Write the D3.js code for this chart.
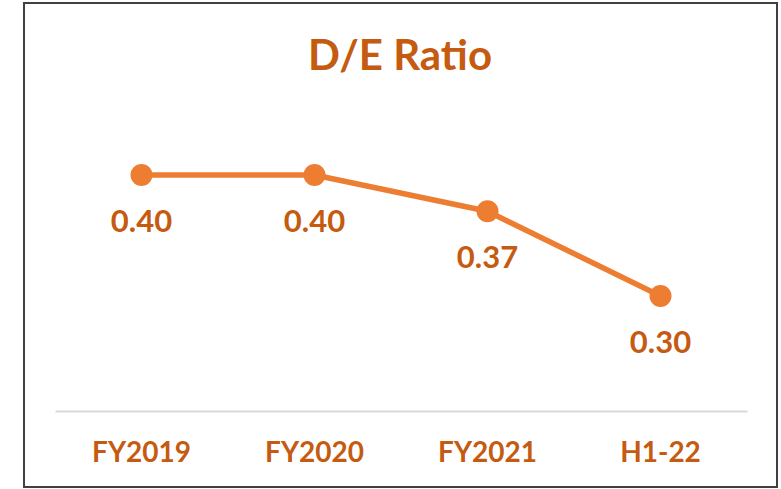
<!DOCTYPE html>
<html lang="en">
  <head>
    <meta charset="UTF-8" />
    <title>D/E Ratio</title>
    <script src="https://d3js.org/d3.v7.min.js" charset="utf-8"></script>
    <style>
      body { margin: 0; background: #fff; }
    </style>
  </head>
  <body>
    <div id="svgCanvas"></div>
    <script>
      // data
      var categories = ["FY2019", "FY2020", "FY2021", "H1-22"];
      var ratios = [0.40, 0.40, 0.37, 0.30];
      var title = "D/E Ratio";

      var width = 781,
        height = 489;

      var canvas = d3
        .select("#svgCanvas")
        .append("svg")
        .attr("width", width)
        .attr("height", height);

      var font = "Lato, 'Open Sans', sans-serif";

      // frame
      canvas
        .append("rect")
        .attr("x", 24)
        .attr("y", 3)
        .attr("width", 753)
        .attr("height", 484)
        .attr("fill", "#fff")
        .attr("stroke", "#404040")
        .attr("stroke-width", 2);

      var x = d3
        .scaleBand()
        .domain(categories)
        .range([55, 747]);

      var y = d3
        .scaleLinear()
        .domain([0.2, 0.5])
        .range([417, 54]);

      var axisY = 411;

      // title
      canvas
        .append("text")
        .attr("x", 400)
        .attr("y", 70)
        .attr("text-anchor", "middle")
        .attr("font-family", font)
        .attr("font-weight", "bold")
        .attr("font-size", 42)
        .attr("fill", "#C55A11")
        .text(title);

      // category axis
      var gX = canvas
        .append("g")
        .attr("transform", "translate(0," + axisY + ")")
        .call(d3.axisBottom(x).tickSize(0).tickPadding(0));
      gX.select(".domain")
        .attr("stroke", "#d9d9d9")
        .attr("stroke-width", 2);
      gX.selectAll(".tick text")
        .attr("y", 51)
        .attr("dy", 0)
        .attr("font-family", font)
        .attr("font-weight", "bold")
        .attr("font-size", 28)
        .attr("fill", "#C55A11");

      var cx = function(d, i) {
        return x(categories[i]) + x.bandwidth() / 2;
      };

      // line
      var line = d3
        .line()
        .x(cx)
        .y(function(d) {
          return y(d);
        });

      canvas
        .append("path")
        .attr("d", line(ratios))
        .attr("fill", "none")
        .attr("stroke", "#ED7D31")
        .attr("stroke-width", 5.5)
        .attr("stroke-linejoin", "round");

      // markers
      canvas
        .selectAll("circle.pt")
        .data(ratios)
        .enter()
        .append("circle")
        .attr("class", "pt")
        .attr("cx", cx)
        .attr("cy", function(d) {
          return y(d);
        })
        .attr("r", 11)
        .attr("fill", "#ED7D31");

      // value labels below points
      canvas
        .selectAll("text.lbl")
        .data(ratios)
        .enter()
        .append("text")
        .attr("class", "lbl")
        .attr("x", cx)
        .attr("y", function(d) {
          return y(d) + 57;
        })
        .attr("text-anchor", "middle")
        .attr("font-family", font)
        .attr("font-weight", "bold")
        .attr("font-size", 31)
        .attr("fill", "#C55A11")
        .text(function(d) {
          return d.toFixed(2);
        });
    </script>
  </body>
</html>
